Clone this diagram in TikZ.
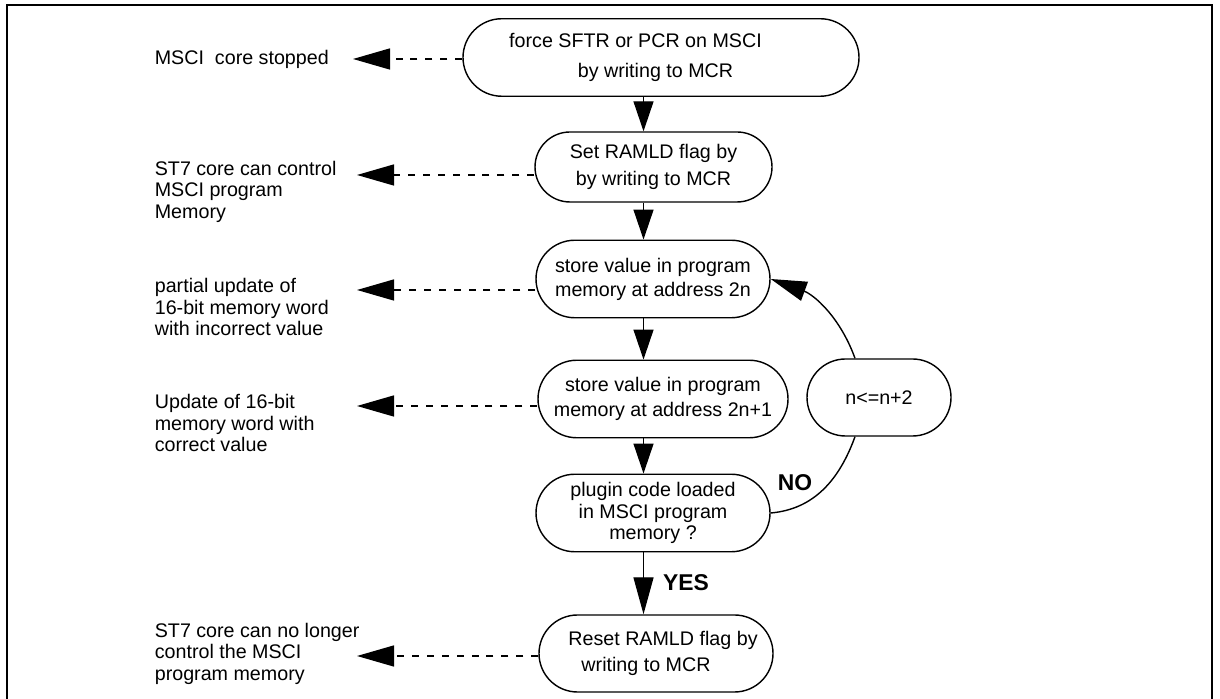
\documentclass[tikz,border=0pt]{standalone}
\usepackage{fontspec}
\setmainfont{Liberation Sans}
\usetikzlibrary{arrows.meta,shapes.misc}
\newcommand{\boxfont}{\fontsize{11.2}{12.2}\selectfont}
\newcommand{\tagfont}{\fontsize{13}{14}\selectfont\bfseries}

\begin{document}
\begin{tikzpicture}[line cap=butt,font=\boxfont,
  stepbox/.style={draw,line width=0.8pt,rounded rectangle,align=center,inner sep=0pt,minimum height=1.55cm},
  effect/.style={anchor=west,align=left,inner sep=0pt},
  flow/.style={line width=0.8pt,-{Triangle[length=0.6cm,width=0.4cm]}},
  hint/.style={line width=0.8pt,dash pattern=on 4pt off 4.5pt,-{Triangle[length=0.74cm,width=0.42cm]}},
  tag/.style={font=\tagfont,inner sep=0pt}]
\useasboundingbox (0,0) rectangle (24.4,13.98);
\draw[line width=1.3pt] (0.14,0) -- (0.14,13.88) -- (24.24,13.88) -- (24.24,0);
% flow steps
\node[stepbox,minimum width=7.92cm] (force) at (13.22,12.83) {force SFTR or PCR on MSCI\hspace*{1.02cm}\\[4.8pt]by writing to MCR\hspace*{0.22cm}};
\node[stepbox,minimum width=4.74cm,minimum height=1.4cm] (ramld) at (13.07,10.64) {Set RAMLD flag by\\[3pt]by writing to MCR};
\node[stepbox,minimum width=4.68cm] (even) at (13.06,8.40) {store value in program\\[1.4pt]memory at address 2n};
\node[stepbox,minimum width=5.0cm] (odd) at (13.26,6.00) {store value in program\\[2pt]memory at address 2n+1};
\node[stepbox,minimum width=4.68cm] (check) at (13.06,3.72) {plugin code loaded\\in MSCI program\\memory ?};
\node[stepbox,minimum width=4.68cm,minimum height=1.54cm] (reset) at (13.12,0.91) {\hspace*{0.28cm}Reset RAMLD flag by\\[3pt]writing to MCR\hspace*{0.4cm}};
\node[stepbox,minimum width=2.88cm,minimum height=1.54cm] (incr) at (17.58,6.03) {n<=n+2};
% main column
\coordinate (spine) at (12.87,0);
\draw[flow] (force.south -| spine) -- (ramld.north -| spine);
\draw[flow] (ramld.south -| spine) -- (even.north -| spine);
\draw[flow] (even.south -| spine) -- (odd.north -| spine);
\draw[flow] (odd.south -| spine) -- (check.north -| spine);
\draw[flow,-{Triangle[length=0.74cm,width=0.4cm]}] (check.south -| spine) -- (reset.north -| spine);
\node[tag] (yes) at (13.72,2.32) {YES};
% loop back
\draw[line width=0.8pt] (check.east) to[out=5,in=-110] ([xshift=-0.48cm]incr.south);
\draw[line width=0.8pt,-{Triangle[length=0.72cm,width=0.4cm]}] ([xshift=-0.48cm]incr.north) to[out=110,in=-20] (even.east);
\node[tag] (no) at (15.9,4.32) {NO};
% effects on the left
\node[effect] (stopped) at (3.09,12.80) {MSCI\ \ core stopped};
\node[effect] (control) at (3.09,10.15) {ST7 core can control\\MSCI program\\Memory};
\node[effect] (partial) at (3.09,7.84) {partial update of\\16-bit memory word\\with incorrect value};
\node[effect] (update) at (3.09,5.52) {Update of 16-bit\\memory word with\\correct value};
\node[effect] (release) at (3.09,0.91) {ST7 core can no longer\\control the MSCI\\program memory};
\coordinate (t1) at (7.06,12.80);
\coordinate (t2) at (7.14,10.48);
\coordinate (t3) at (7.14,8.18);
\coordinate (t4) at (7.14,5.86);
\coordinate (t5) at (7.14,0.86);
\draw[hint] (t1 -| force.west) -- (t1);
\draw[hint] (t2 -| ramld.west) -- (t2);
\draw[hint] (t3 -| even.west) -- (t3);
\draw[hint] (t4 -| odd.west) -- (t4);
\draw[hint] (t5 -| reset.west) -- (t5);
\end{tikzpicture}
\end{document}
